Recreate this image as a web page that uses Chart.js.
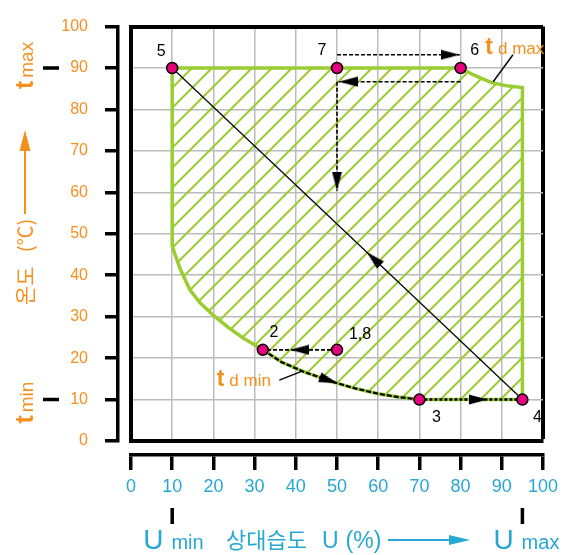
<!DOCTYPE html>
<html>
<head>
<meta charset="utf-8">
<script src="https://cdn.jsdelivr.net/npm/chart.js@4.4.1/dist/chart.umd.min.js"></script>
<style>
  html, body { margin: 0; padding: 0; background: #fff; }
  canvas { display: block; }
</style>
</head>
<body>
<canvas id="chart" width="568" height="555"></canvas>
<script>
// axis ticks
const humidityTicks = [0, 10, 20, 30, 40, 50, 60, 70, 80, 90, 100];
const tempTicks = [0, 10, 20, 30, 40, 50, 60, 70, 80, 90, 100];

// working envelope (relative humidity %, temperature °C), closed back to start
const rangeU = [10, 80, 83, 87.5, 91.2, 95, 95, 70, 64.9, 60, 54.4, 49.5, 42.2, 36.6, 32, 27.3, 23.6, 20, 16.7, 14.3, 11.9, 10, 10];
const rangeT = [90, 90, 88.4, 86.5, 85.7, 85.3, 10, 10, 10.6, 11.4, 12.7, 14.1, 16.6, 19, 22, 24.8, 27.4, 30.3, 33.4, 36.5, 41.6, 47, 90];

// test points
const pointNames = ['1,8', '2', '3', '4', '5', '6', '7'];
const pointU = [50, 32, 70, 95, 10, 80, 50];
const pointT = [22, 22, 10, 10, 90, 90, 90];

// cycle legs
const leg1to2U = [50, 32];
const leg1to2T = [22, 22];
const leg2to3U = [32, 36.6, 42.2, 49.5, 54.4, 60, 64.9, 70];
const leg2to3T = [22, 19, 16.6, 14.1, 12.7, 11.4, 10.6, 10];
const leg3to4U = [70, 95];
const leg3to4T = [10, 10];
const leg4to5U = [95, 10];
const leg4to5T = [10, 90];
const leg7to6U = [50, 79.8];
const leg7to6T = [93.2, 93.2];
const leg6to7U = [80, 50.4];
const leg6to7T = [86.7, 86.7];
const leg7downU = [50, 50];
const leg7downT = [86.7, 60.4];

// arrow tips and the point each arrow comes from
const arrowU = [38.6, 50.2, 86.6, 57.2, 79.8, 50.4, 50];
const arrowT = [22, 13.9, 10, 45.6, 93.2, 86.7, 60.4];
const arrowFromU = [50, 42.2, 70, 95, 50, 80, 50];
const arrowFromT = [22, 16.6, 10, 10, 93.2, 86.7, 86.7];

// leader lines for the dew point labels
const tdMaxLeaderU = [87.9, 92.7];
const tdMaxLeaderT = [86.7, 93.2];
const tdMinLeaderU = [36, 41.4];
const tdMinLeaderT = [14.7, 16.8];

const GREEN = '#9acd32';
const ORANGE = '#f5901e';
const CYAN = '#27a7d4';
const MAGENTA = '#e5007e';
const GRID = '#bcbcbc';
const SANS = '"Liberation Sans", Arial, sans-serif';
const NARROW = '"Liberation Sans Narrow", "Arial Narrow", "Liberation Sans", sans-serif';
const KR = '"Noto Sans CJK KR", sans-serif';

const xy = (us, ts) => us.map((u, i) => ({ x: u, y: ts[i] }));

// hatch pattern for the envelope
const tile = document.createElement('canvas');
tile.width = tile.height = 20;
const tg = tile.getContext('2d');
tg.strokeStyle = GREEN;
tg.lineWidth = 2;
tg.beginPath();
tg.moveTo(-2, 22); tg.lineTo(22, -2);
tg.moveTo(-3, 3); tg.lineTo(3, -3);
tg.moveTo(17, 23); tg.lineTo(23, 17);
tg.stroke();
const hatch = tg.createPattern(tile, 'repeat');

// arrow head, tip sits at the canvas centre
const head = document.createElement('canvas');
head.width = 11; head.height = 38;
const hg = head.getContext('2d');
hg.fillStyle = '#000';
hg.beginPath();
hg.moveTo(5.5, 19); hg.lineTo(10.5, 38); hg.lineTo(0.5, 38);
hg.closePath();
hg.fill();

function leg(us, ts, width, dash) {
  return {
    data: xy(us, ts), showLine: true, borderColor: '#000', borderWidth: width,
    borderDash: dash, pointRadius: 0, fill: false, order: 2
  };
}

function runs(ctx, parts, x, y) {
  for (const p of parts) {
    ctx.font = p.font;
    ctx.fillText(p.text, x, y);
    x += ctx.measureText(p.text).width + (p.gap || 0);
  }
  return x;
}

const decor = {
  id: 'decor',
  afterDraw(chart) {
    const { ctx } = chart;
    const x = chart.scales.x, y = chart.scales.y;
    ctx.save();

    // t max / t min and U min / U max markers
    ctx.strokeStyle = '#000';
    ctx.lineWidth = 3.5;
    ctx.beginPath();
    ctx.moveTo(43, y.getPixelForValue(90)); ctx.lineTo(59, y.getPixelForValue(90));
    ctx.moveTo(43, y.getPixelForValue(10)); ctx.lineTo(59, y.getPixelForValue(10));
    ctx.moveTo(x.getPixelForValue(10), 508); ctx.lineTo(x.getPixelForValue(10), 524);
    ctx.moveTo(x.getPixelForValue(95), 508); ctx.lineTo(x.getPixelForValue(95), 524);
    ctx.stroke();

    // point numbers
    const off = { '1,8': [23, -15], '2': [11, -17], '3': [17, 18], '4': [15, 18], '5': [-11, -16], '6': [14, -17], '7': [-15, -17] };
    ctx.fillStyle = '#000';
    ctx.font = '16px ' + SANS;
    ctx.textAlign = 'center';
    ctx.textBaseline = 'middle';
    pointNames.forEach((n, i) => {
      ctx.fillText(n, x.getPixelForValue(pointU[i]) + off[n][0], y.getPixelForValue(pointT[i]) + off[n][1]);
    });

    // dew point labels
    ctx.textAlign = 'left';
    ctx.textBaseline = 'alphabetic';
    ctx.fillStyle = ORANGE;
    runs(ctx, [{ text: 't', font: 'bold 23px ' + SANS, gap: 5 }, { text: 'd max', font: '17px ' + SANS }],
      x.getPixelForValue(86), y.getPixelForValue(93.5));
    runs(ctx, [{ text: 't', font: 'bold 23px ' + SANS, gap: 5 }, { text: 'd min', font: '17px ' + SANS }],
      x.getPixelForValue(20.8), y.getPixelForValue(13.3));

    // left titles (rotated)
    const vtext = (parts, px, py) => {
      ctx.save();
      ctx.translate(px, py);
      ctx.rotate(-Math.PI / 2);
      const end = runs(ctx, parts, 0, 0);
      ctx.restore();
      return end;
    };
    vtext([{ text: 't', font: 'bold 25px ' + SANS, gap: 3 }, { text: 'max', font: '19px ' + NARROW }], 33, y.getPixelForValue(90) + 21);
    vtext([{ text: 't', font: 'bold 25px ' + SANS, gap: 3 }, { text: 'min', font: '19px ' + NARROW }], 33, y.getPixelForValue(10) + 24);
    vtext([{ text: '온도', font: '21px ' + KR, gap: 14 }, { text: '(℃)', font: '20px ' + KR }], 33, 305);

    ctx.strokeStyle = ORANGE;
    ctx.lineWidth = 2;
    ctx.beginPath(); ctx.moveTo(25, 214); ctx.lineTo(25, 148); ctx.stroke();
    ctx.beginPath(); ctx.moveTo(25, 130); ctx.lineTo(30.5, 151); ctx.lineTo(19.5, 151); ctx.closePath(); ctx.fill();

    // bottom titles
    ctx.fillStyle = CYAN;
    runs(ctx, [{ text: 'U', font: '28px ' + NARROW, gap: 8 }, { text: 'min', font: '20px ' + NARROW }], x.getPixelForValue(10) - 29, 549);
    runs(ctx, [{ text: 'U', font: '28px ' + NARROW, gap: 8 }, { text: 'max', font: '20px ' + NARROW }], x.getPixelForValue(95) - 29, 549);
    runs(ctx, [
      { text: '상대습도', font: '22px ' + KR, gap: 15 },
      { text: 'U', font: '23px ' + NARROW, gap: 7 },
      { text: '(%)', font: '23px ' + NARROW }
    ], 226, 548);
    ctx.strokeStyle = CYAN;
    ctx.beginPath(); ctx.moveTo(388, 540); ctx.lineTo(452, 540); ctx.stroke();
    ctx.beginPath(); ctx.moveTo(470, 540); ctx.lineTo(449, 535); ctx.lineTo(449, 545); ctx.closePath(); ctx.fill();

    ctx.restore();
  }
};

new Chart(document.getElementById('chart'), {
  type: 'scatter',
  data: {
    datasets: [
      {
        data: xy(pointU, pointT), pointRadius: 5.5, pointBackgroundColor: MAGENTA,
        pointBorderColor: '#000', pointBorderWidth: 1.5, order: 0
      },
      {
        data: xy(arrowU, arrowT), pointStyle: head, pointRadius: 5, order: 1,
        rotation: (c) => {
          const i = c.dataIndex;
          if (i === undefined) return 0;
          const sx = c.chart.scales.x, sy = c.chart.scales.y;
          const dx = sx.getPixelForValue(arrowU[i]) - sx.getPixelForValue(arrowFromU[i]);
          const dy = sy.getPixelForValue(arrowT[i]) - sy.getPixelForValue(arrowFromT[i]);
          return Math.atan2(dx, -dy) * 180 / Math.PI;
        }
      },
      leg(leg1to2U, leg1to2T, 1.6, [4, 2]),
      leg(leg2to3U, leg2to3T, 2.2, [5, 2]),
      leg(leg3to4U, leg3to4T, 2.4, [3, 2]),
      leg(leg4to5U, leg4to5T, 1.2, []),
      leg(leg7to6U, leg7to6T, 1.6, [4, 2]),
      leg(leg6to7U, leg6to7T, 1.6, [4, 2]),
      leg(leg7downU, leg7downT, 1.6, [4, 2]),
      leg(tdMaxLeaderU, tdMaxLeaderT, 1.4, []),
      leg(tdMinLeaderU, tdMinLeaderT, 1.4, []),
      {
        data: xy(rangeU, rangeT), showLine: true, fill: 'shape', backgroundColor: hatch,
        borderColor: GREEN, borderWidth: 3.5, pointRadius: 0, order: 9
      }
    ]
  },
  options: {
    responsive: false,
    devicePixelRatio: 1,
    animation: false,
    events: [],
    layout: { padding: { left: 0, right: 25, top: 14, bottom: 0 } },
    plugins: { legend: { display: false }, tooltip: { enabled: false } },
    scales: {
      x: {
        type: 'linear', position: 'bottom', min: 0, max: 100,
        afterBuildTicks: s => { s.ticks = humidityTicks.map(v => ({ value: v })); },
        afterFit: s => { s.height = 14; },
        ticks: { display: false },
        grid: {
          drawTicks: false,
          color: c => c.tick && c.tick.value === 100 ? '#000' : GRID,
          lineWidth: c => c.tick && c.tick.value === 100 ? 4 : 1.5
        },
        border: { color: '#000', width: 4 }
      },
      x2: {
        type: 'linear', position: 'bottom', weight: 1, min: 0, max: 100,
        afterBuildTicks: s => { s.ticks = humidityTicks.map(v => ({ value: v })); },
        afterFit: s => { s.height = 100; },
        ticks: { color: CYAN, font: { family: NARROW, size: 18 }, padding: 6, maxRotation: 0 },
        grid: { drawOnChartArea: false, color: '#000', lineWidth: 3.5, tickLength: 15 },
        border: { color: '#000', width: 3.5 }
      },
      y: {
        type: 'linear', position: 'left', min: 0, max: 100,
        afterBuildTicks: s => { s.ticks = tempTicks.map(v => ({ value: v })); },
        afterFit: s => { s.width = 13; },
        ticks: { display: false },
        grid: {
          drawTicks: false,
          color: c => c.tick && c.tick.value === 100 ? '#000' : GRID,
          lineWidth: c => c.tick && c.tick.value === 100 ? 4 : 1.5
        },
        border: { color: '#000', width: 4 }
      },
      y2: {
        type: 'linear', position: 'left', weight: 1, min: 0, max: 100,
        afterBuildTicks: s => { s.ticks = tempTicks.map(v => ({ value: v })); },
        afterFit: s => { s.width = 118; },
        ticks: { color: ORANGE, font: { family: SANS, size: 16 }, padding: 17 },
        grid: { drawOnChartArea: false, color: '#000', lineWidth: 3.5, tickLength: 13 },
        border: { color: '#000', width: 3.5 }
      }
    }
  },
  plugins: [decor]
});
</script>
</body>
</html>
